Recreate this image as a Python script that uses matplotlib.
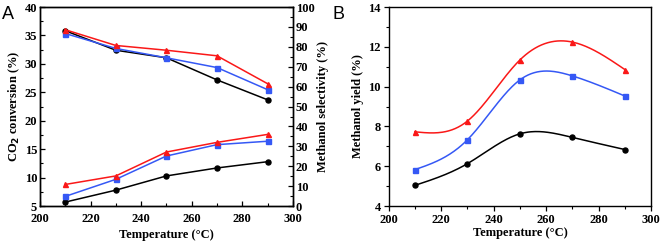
import numpy as np
from matplotlib import pyplot as plt
from matplotlib.ticker import MultipleLocator

# Data
temps = [210, 230, 250, 270, 290]

# Panel A: CO2 conversion (%), left axis
conv_black = [5.7, 7.8, 10.3, 11.7, 12.8]
conv_blue = [6.7, 9.7, 13.8, 15.8, 16.4]
conv_red = [8.8, 10.3, 14.5, 16.2, 17.6]

# Panel A: methanol selectivity (%), right axis
sel_black = [88.1, 78.3, 74.5, 63.4, 53.4]
sel_blue = [86.7, 79.2, 74.5, 69.6, 58.5]
sel_red = [88.6, 80.7, 78.3, 75.5, 61.5]

# Panel B: methanol yield (%)
yld_black = [5.04, 6.13, 7.63, 7.45, 6.84]
yld_blue = [5.83, 7.33, 10.34, 10.54, 9.53]
yld_red = [7.73, 8.27, 11.34, 12.24, 10.86]

BLACK = '#000000'
BLUE = '#3558f5'
RED = '#fa1818'

plt.rcParams['font.family'] = ['Liberation Serif', 'DejaVu Serif']
plt.rcParams['font.weight'] = 'bold'


def spline(x, y, n=200):
    # natural cubic spline, only used to draw the smoothed curve through the points
    x = np.asarray(x, float)
    y = np.asarray(y, float)
    k = len(x)
    h = np.diff(x)
    A = np.zeros((k, k))
    r = np.zeros(k)
    A[0, 0] = A[-1, -1] = 1
    for i in range(1, k - 1):
        A[i, i - 1] = h[i - 1]
        A[i, i] = 2 * (h[i - 1] + h[i])
        A[i, i + 1] = h[i]
        r[i] = 6 * ((y[i + 1] - y[i]) / h[i] - (y[i] - y[i - 1]) / h[i - 1])
    m = np.linalg.solve(A, r)
    xs = np.linspace(x[0], x[-1], n)
    idx = np.clip(np.searchsorted(x, xs) - 1, 0, k - 2)
    x0, x1 = x[idx], x[idx + 1]
    hh = x1 - x0
    t0 = x1 - xs
    t1 = xs - x0
    ys = (m[idx] * t0 ** 3 + m[idx + 1] * t1 ** 3) / (6 * hh) \
        + (y[idx] / hh - m[idx] * hh / 6) * t0 \
        + (y[idx + 1] / hh - m[idx + 1] * hh / 6) * t1
    return xs, ys


fig = plt.figure(figsize=(6.61, 2.43), dpi=100)
axA = fig.add_axes([0.0605, 0.152, 0.3825, 0.819])
axA2 = axA.twinx()
axB = fig.add_axes([0.588, 0.152, 0.397, 0.819])

lw = 1.1
ms = 3.6
for vals, c, mk in [(conv_black, BLACK, 'o'), (conv_blue, BLUE, 's'), (conv_red, RED, '^')]:
    axA.plot(temps, vals, color=c, marker=mk, ms=ms, lw=lw)
for vals, c, mk in [(sel_black, BLACK, 'o'), (sel_blue, BLUE, 's'), (sel_red, RED, '^')]:
    axA2.plot(temps, vals, color=c, marker=mk, ms=ms, lw=lw)

axA.set_xlim(200, 300)
axA.set_ylim(5, 40)
axA2.set_ylim(0, 100)
axA.xaxis.set_major_locator(MultipleLocator(20))
axA.xaxis.set_minor_locator(MultipleLocator(10))
axA.yaxis.set_major_locator(MultipleLocator(5))
axA.yaxis.set_minor_locator(MultipleLocator(2.5))
axA2.yaxis.set_major_locator(MultipleLocator(10))
axA2.yaxis.set_minor_locator(MultipleLocator(5))
for ax in (axA, axA2):
    ax.tick_params(which='both', direction='in', labelsize=9, pad=2)
    ax.tick_params(which='major', length=3.5, width=0.9)
    ax.tick_params(which='minor', length=2, width=0.8)
axA.tick_params(axis='x', pad=5)
axA.set_xlabel('Temperature (\u00b0C)', fontsize=9, fontweight='bold', labelpad=3)
axA.set_ylabel('CO$_\\mathbf{2}$ conversion (%)', fontsize=9, fontweight='bold', labelpad=2)
axA2.set_ylabel('Methanol selectivity (%)', fontsize=9, fontweight='bold', labelpad=2)

for vals, c, mk in [(yld_black, BLACK, 'o'), (yld_blue, BLUE, 's'), (yld_red, RED, '^')]:
    xs, ys = spline(temps, vals)
    axB.plot(xs, ys, color=c, lw=lw)
    axB.plot(temps, vals, color=c, marker=mk, ms=ms, lw=0)

axB.set_xlim(200, 300)
axB.set_ylim(4, 14)
axB.xaxis.set_major_locator(MultipleLocator(20))
axB.xaxis.set_minor_locator(MultipleLocator(10))
axB.yaxis.set_major_locator(MultipleLocator(2))
axB.yaxis.set_minor_locator(MultipleLocator(1))
axB.tick_params(which='both', direction='out', labelsize=9, pad=2)
axB.tick_params(which='major', length=3.5, width=0.9)
axB.tick_params(which='minor', length=2, width=0.8)
axB.set_xlabel('Temperature (\u00b0C)', fontsize=9, fontweight='bold', labelpad=1)
axB.set_ylabel('Methanol yield (%)', fontsize=9, fontweight='bold', labelpad=3)

for ax in (axA, axA2, axB):
    for s in ax.spines.values():
        s.set_linewidth(1.0)

fig.text(0.003, 0.975, 'A', fontsize=13, family='Liberation Sans', fontweight='normal', va='top')
fig.text(0.503, 0.975, 'B', fontsize=13, family='Liberation Sans', fontweight='normal', va='top')

fig.savefig('out.png', dpi=100)
